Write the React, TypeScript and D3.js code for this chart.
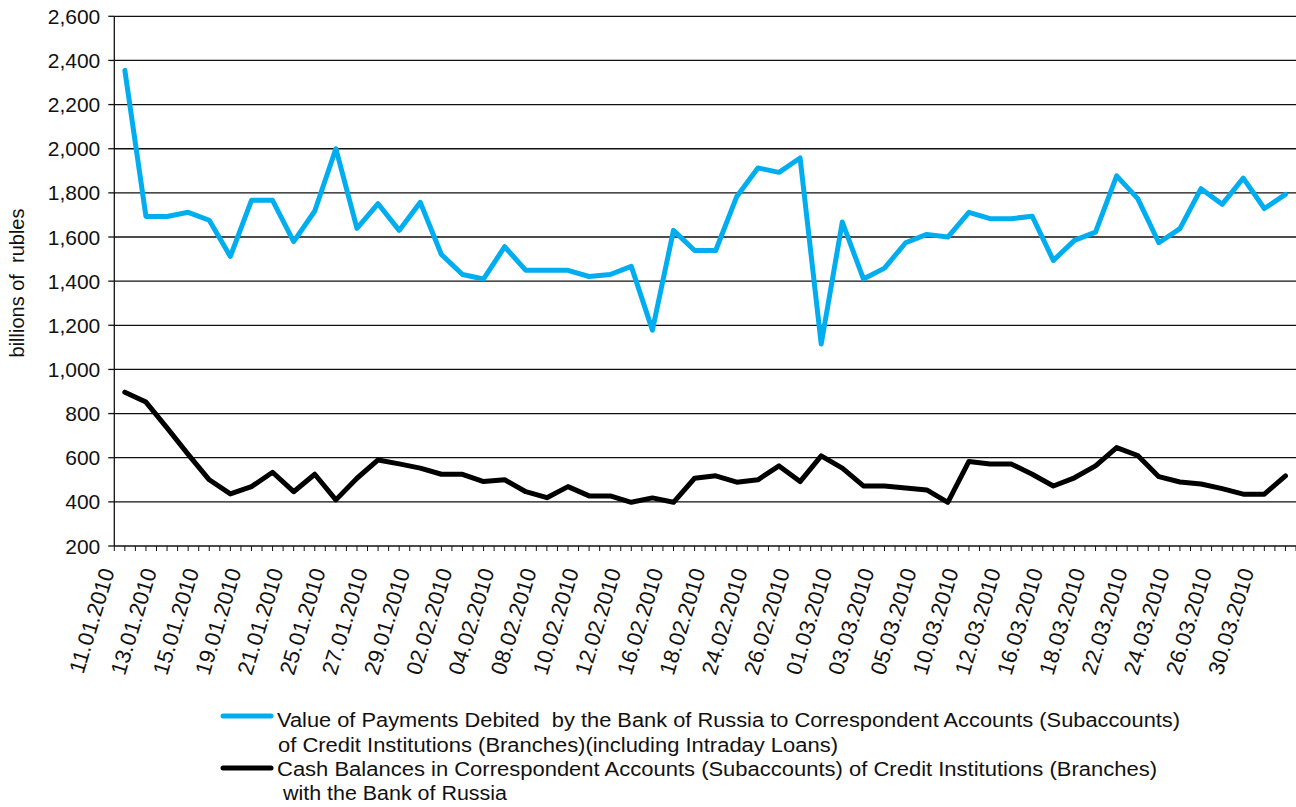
import React from 'react';
import * as d3 from 'd3';

const dates = [
  '11.01.2010', '12.01.2010', '13.01.2010', '14.01.2010', '15.01.2010',
  '18.01.2010', '19.01.2010', '20.01.2010', '21.01.2010', '22.01.2010',
  '25.01.2010', '26.01.2010', '27.01.2010', '28.01.2010', '29.01.2010',
  '01.02.2010', '02.02.2010', '03.02.2010', '04.02.2010', '05.02.2010',
  '08.02.2010', '09.02.2010', '10.02.2010', '11.02.2010', '12.02.2010',
  '15.02.2010', '16.02.2010', '17.02.2010', '18.02.2010', '19.02.2010',
  '24.02.2010', '25.02.2010', '26.02.2010', '27.02.2010',
  '01.03.2010', '02.03.2010', '03.03.2010', '04.03.2010', '05.03.2010',
  '09.03.2010', '10.03.2010', '11.03.2010', '12.03.2010',
  '15.03.2010', '16.03.2010', '17.03.2010', '18.03.2010', '19.03.2010',
  '22.03.2010', '23.03.2010', '24.03.2010', '25.03.2010', '26.03.2010',
  '29.03.2010', '30.03.2010', '31.03.2010',
];

const payments = [
  2355, 1693, 1693, 1712, 1676, 1512, 1766, 1766, 1579, 1718,
  2000, 1639, 1751, 1630, 1757, 1521, 1430, 1410, 1556, 1449,
  1449, 1449, 1421, 1430, 1467, 1178, 1630, 1539, 1539, 1784,
  1913, 1893, 1958, 1115, 1668, 1410, 1459, 1574, 1612, 1600,
  1712, 1683, 1683, 1694, 1494, 1585, 1622, 1877, 1774, 1574,
  1638, 1819, 1748, 1867, 1729, 1793,
];

const balances = [
  897, 852, 735, 615, 500, 436, 469, 534, 446, 525,
  409, 507, 590, 572, 553, 525, 525, 492, 500, 446,
  419, 469, 427, 427, 398, 418, 398, 507, 518, 489,
  500, 563, 492, 608, 553, 472, 472, 463, 454, 398,
  583, 572, 572, 525, 472, 509, 563, 646, 610, 514,
  490, 481, 460, 435, 435, 518,
];

const yTicks = [200, 400, 600, 800, 1000, 1200, 1400, 1600, 1800, 2000, 2200, 2400, 2600];

const yTitle = 'billions of  rubles';

const legendPayments = [
  'Value of Payments Debited  by the Bank of Russia to Correspondent Accounts (Subaccounts)',
  'of Credit Institutions (Branches)(including Intraday Loans)',
];
const legendBalances = [
  'Cash Balances in Correspondent Accounts (Subaccounts) of Credit Institutions (Branches)',
  ' with the Bank of Russia',
];

const BLUE = '#00AEEF';
const FONT = '"Liberation Sans", Arial, Helvetica, sans-serif';

export default function App() {
  const W = 1296;
  const H = 807;
  const left = 114.3;
  const right = 1296;
  const top = 16.3;
  const bottom = 546;

  const x = d3.scaleBand<string>().domain(dates).range([left, right]).padding(0);
  const bw = x.bandwidth();
  const cx = (d: string) => (x(d) as number) + bw / 2;
  const y = d3.scaleLinear().domain([200, 2600]).range([bottom, top]);
  const fmt = d3.format(',');

  const line = d3
    .line<number>()
    .x((_, i) => cx(dates[i]))
    .y((v) => y(v));

  const halfTicks: number[] = [];
  for (let i = 0; i <= dates.length * 2; i++) halfTicks.push(left + (i * bw) / 2);

  return (
    <svg
      width={W}
      height={H}
      style={{ position: 'absolute', left: 0, top: 0, background: '#fff' }}
      fontFamily={FONT}
    >
      {/* gridlines */}
      {yTicks.map((t) => (
        <line key={'g' + t} x1={left} x2={right} y1={y(t)} y2={y(t)} stroke="#111" strokeWidth={1.3} />
      ))}
      {/* y axis */}
      <line x1={left} x2={left} y1={top} y2={bottom} stroke="#111" strokeWidth={1.3} />
      {yTicks.map((t) => (
        <g key={'yt' + t}>
          <line x1={left - 6} x2={left} y1={y(t)} y2={y(t)} stroke="#111" strokeWidth={1.3} />
          <text x={left - 14} y={y(t)} dy="0.36em" textAnchor="end" fontSize={21} fill="#111">
            {fmt(t)}
          </text>
        </g>
      ))}
      {/* x ticks */}
      {halfTicks.map((tx, i) => (
        <line key={'xt' + i} x1={tx} x2={tx} y1={bottom} y2={bottom + 5} stroke="#111" strokeWidth={1} />
      ))}
      {/* x labels */}
      {dates.map((d, i) =>
        i % 2 === 0 ? (
          <text
            key={'xl' + d}
            transform={`translate(${cx(d) - 10},${571}) rotate(-73)`}
            textAnchor="end"
            fontSize={22}
            fill="#111"
          >
            {d}
          </text>
        ) : null
      )}
      {/* y title */}
      <text
        transform={`translate(24,${283}) rotate(-90)`}
        textAnchor="middle"
        fontSize={20}
        fill="#111"
        style={{ whiteSpace: 'pre' }}
      >
        {yTitle}
      </text>
      {/* series */}
      <path d={line(balances) || ''} fill="none" stroke="#000" strokeWidth={5} strokeLinejoin="round" strokeLinecap="round" />
      <path d={line(payments) || ''} fill="none" stroke={BLUE} strokeWidth={5} strokeLinejoin="round" strokeLinecap="round" />
      {/* legend */}
      <line x1={223} x2={271} y1={716} y2={716} stroke={BLUE} strokeWidth={5} strokeLinecap="round" />
      <text x={277} y={727} fontSize={20} fill="#111" textLength={903} lengthAdjust="spacingAndGlyphs" style={{ whiteSpace: 'pre' }}>
        {legendPayments[0]}
      </text>
      <text x={278} y={752} fontSize={20} fill="#111" textLength={560} lengthAdjust="spacingAndGlyphs" style={{ whiteSpace: 'pre' }}>
        {legendPayments[1]}
      </text>
      <line x1={223} x2={271} y1={768} y2={768} stroke="#000" strokeWidth={5} strokeLinecap="round" />
      <text x={277} y={776} fontSize={20} fill="#111" textLength={880} lengthAdjust="spacingAndGlyphs" style={{ whiteSpace: 'pre' }}>
        {legendBalances[0]}
      </text>
      <text x={277} y={800} fontSize={20} fill="#111" textLength={230} lengthAdjust="spacingAndGlyphs" style={{ whiteSpace: 'pre' }}>
        {legendBalances[1]}
      </text>
    </svg>
  );
}
